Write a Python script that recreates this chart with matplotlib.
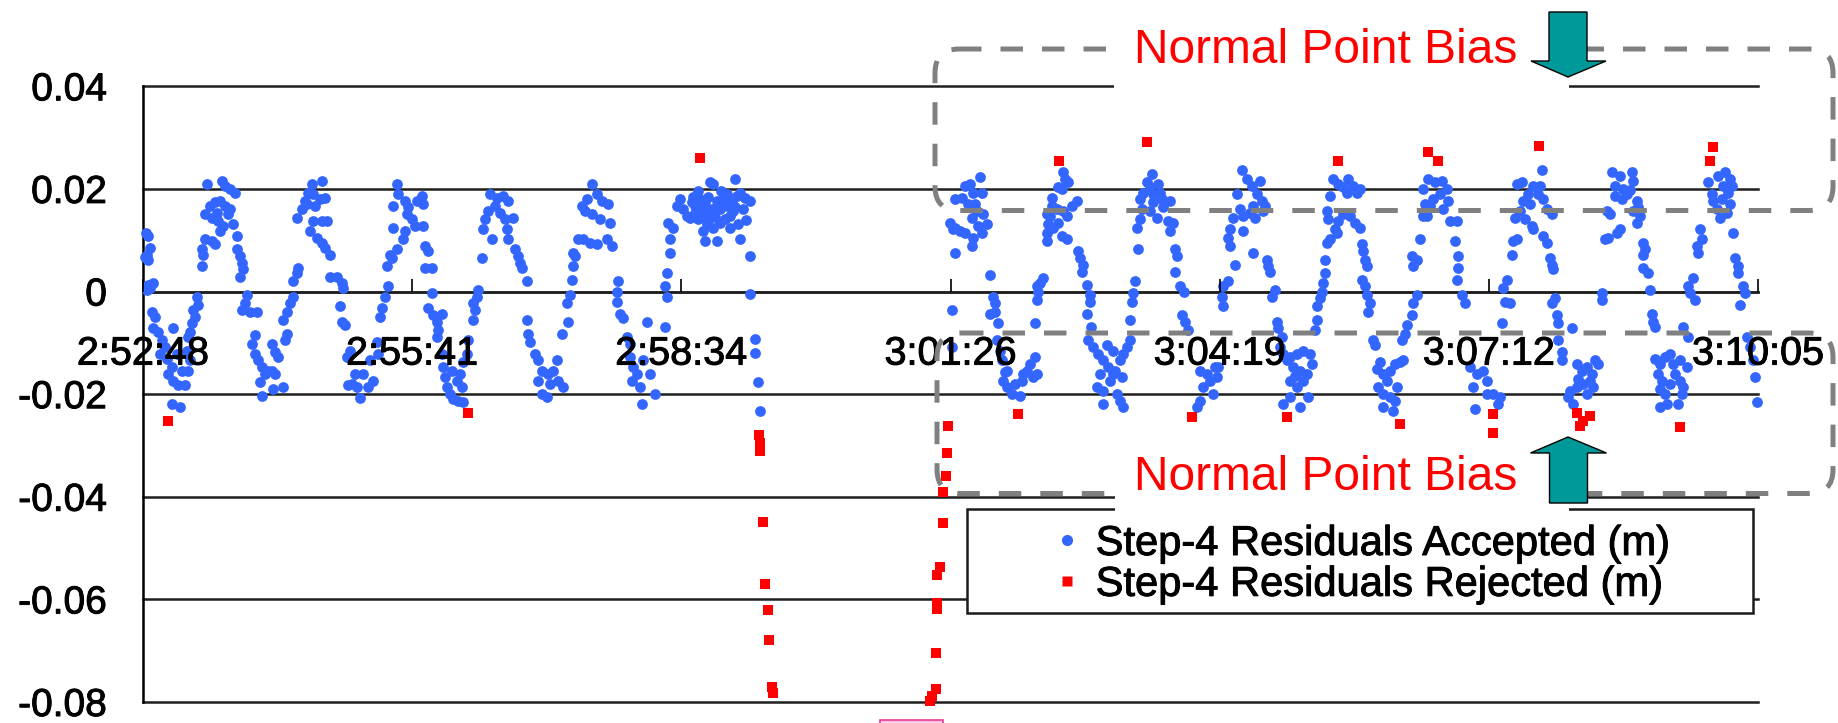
import numpy as np
import matplotlib
matplotlib.use("Agg")
import matplotlib.pyplot as plt
import matplotlib.patheffects as pe
from matplotlib.patches import FancyBboxPatch, Rectangle, Polygon
from matplotlib.lines import Line2D
from matplotlib.transforms import Affine2D

plt.rcParams['font.family'] = ['Liberation Sans', 'DejaVu Sans']

# Residuals: (seconds after 02:52:48, residual in mm)
pass1_accepted = np.array([
    (2.0, 11.5), (1.5, 6.8), (3.0, 1.3),
    (3.45, 10.8), (4.5, 8.5), (2.4, 7.2), (3.5, 6.2), (6.7, 1.6), (4.5, 0.7), (2.4, 0.3),
    (5.6, -3.9), (7.7, -4.9), (6.7, -7.2), (9.9, -7.9), (12.0, -9.5), (14.2, -10.8), (11.0, -12.1),
    (15.2, -13.1), (18.4, -14.7), (16.3, -16.0), (19.5, -17.4), (22.7, -18.3), (27.0, -18.3),
    (24.9, -15.4), (29.1, -15.4), (30.2, -13.4), (28.1, -11.5), (19.5, -7.2), (18.4, -21.9),
    (23.8, -22.6), (21.6, -12.1),
    (34.5, -1.0), (35.6, -2.6), (32.3, -3.6), (33.4, -4.9), (31.3, -6.2), (30.2, -7.9), (29.1, -8.8),
    (37.7, 4.9), (38.8, 7.2), (39.8, 10.2), (44.1, 9.8), (46.3, 9.2), (37.7, 8.2),
    (40.9, 21.0), (50.5, 21.6), (52.7, 20.6), (55.9, 20.0), (59.1, 19.3), (39.8, 15.1), (43.0, 16.7),
    (46.3, 17.4), (49.5, 17.7), (52.7, 16.7), (55.9, 16.0), (44.1, 14.4), (48.4, 13.8), (51.6, 12.8),
    (49.5, 11.8), (58.0, 13.1), (60.2, 10.8), (54.8, 15.1), (47.3, 15.4),
    (60.2, 8.2), (62.3, 6.9), (63.4, 5.6), (64.4, 4.3), (62.3, 2.9), (66.6, -0.7), (65.5, -2.3),
    (63.4, -3.6), (68.7, -3.9), (73.0, -3.9),
    (71.9, -8.5), (69.8, -10.2), (71.9, -12.1), (74.1, -13.4), (76.2, -14.7), (78.4, -16.0),
    (75.1, -17.7), (76.2, -20.3), (80.5, -15.4), (82.6, -15.4), (84.8, -16.0), (83.7, -19.0),
    (90.1, -18.7), (82.6, -10.2), (84.8, -11.8), (86.9, -12.8), (92.3, -8.2), (91.2, -9.5),
    (90.1, -5.6), (92.3, -3.9), (94.4, -2.3), (96.5, -1.0), (96.5, 2.0), (98.7, 3.6), (99.8, 4.6),
    (98.7, 14.4), (101.9, 16.0), (104.0, 17.7), (106.2, 19.3), (108.3, 21.0), (114.7, 21.6),
    (109.4, 19.0), (113.7, 18.0), (116.9, 18.3), (107.2, 11.8), (109.4, 13.8), (114.7, 13.8),
    (117.9, 13.8), (111.5, 10.5), (114.7, 9.5), (116.9, 8.5), (120.1, 7.2), (105.1, 17.0), (110.5, 16.7),
    (120.1, 2.9), (124.4, 2.9), (127.6, 1.6), (128.6, 0.7), (126.5, -2.9), (127.6, -5.9), (129.7, -6.6),
    (130.8, -12.8), (132.9, -11.5), (136.1, -16.0), (134.0, -18.0), (137.2, -18.7), (139.3, -20.7),
    (141.5, -16.0), (145.8, -13.4), (147.9, -17.4), (144.7, -18.7), (150.0, -9.8), (151.1, -12.1),
    (131.9, -18.3),
    (152.2, -4.9), (153.3, -3.3), (155.4, -1.0), (157.5, 1.0), (156.5, 4.9), (159.7, 6.6), (158.6, 7.2),
    (160.7, 12.4), (162.9, 8.2), (167.2, 10.2), (168.2, 11.8),
    (162.9, 21.0), (163.9, 19.0), (168.2, 17.7), (170.4, 16.4), (172.5, 14.1), (174.6, 12.8),
    (169.3, 15.1), (175.7, 17.7), (160.7, 16.7),
    (178.9, 18.7), (180.0, 17.0), (180.0, 12.8), (181.0, 8.8), (183.2, 7.9), (181.0, 4.6), (185.3, 4.6),
    (185.3, -0.3), (183.2, -3.3), (186.4, -4.6), (188.5, -5.9), (189.6, -7.5), (191.7, -4.3), (188.5, -8.8),
    (191.7, -12.1), (192.8, -14.7), (193.9, -16.7), (194.9, -18.7), (197.1, -20.0), (199.2, -21.0),
    (202.4, -21.3), (204.6, -18.7), (203.5, -16.0), (205.6, -13.8), (207.8, -12.1), (208.9, -9.5),
    (198.2, -15.4), (201.4, -17.4), (205.6, -21.6),
    (212.1, -5.6), (213.1, -3.6), (212.1, -2.3), (214.2, -1.0), (215.3, 0.3), (217.4, 6.6), (218.5, 12.1),
    (219.5, 14.1), (221.7, 15.7), (223.8, 10.2),
    (222.8, 19.0), (227.0, 18.3), (231.3, 18.7), (234.5, 17.7), (226.0, 16.7), (229.2, 15.4),
    (232.4, 14.1), (237.7, 14.4), (233.5, 12.1), (234.5, 10.2), (238.8, 8.2), (241.0, 6.9), (242.0, 5.6),
    (243.1, 4.6), (246.3, 2.0),
    (246.3, -5.6), (247.4, -8.2), (248.4, -9.8),
    (251.7, -12.1), (253.8, -13.4), (255.9, -15.4), (253.8, -17.4), (255.9, -20.0), (259.1, -20.6),
    (261.3, -18.0), (263.4, -15.4), (265.6, -13.4), (266.6, -17.4), (269.8, -18.7), (260.2, -16.0),
    (268.8, -8.2), (273.1, -5.9), (272.0, -2.3), (274.1, -0.7), (275.2, 2.3), (276.3, 4.9), (277.3, 6.9),
    (276.3, 7.5),
    (279.5, 10.2), (282.7, 10.2), (287.0, 9.5), (291.2, 9.2), (281.6, 16.7), (284.8, 18.0), (288.0, 21.0),
    (291.2, 19.0), (294.5, 17.7), (298.7, 17.0), (283.8, 15.7), (288.0, 15.1), (293.4, 14.1),
    (299.8, 13.4), (300.9, 8.8), (297.7, 10.2),
    (305.2, 2.0), (304.1, 0.0), (304.1, -2.0), (306.2, -4.3), (308.4, -5.2), (310.5, -8.8), (312.6, -10.2),
    (312.6, -12.8), (314.8, -14.7), (313.7, -17.4), (316.9, -16.0), (319.1, -18.7), (320.1, -21.9),
    (321.2, -13.4), (325.5, -16.0), (328.7, -20.0), (323.3, -5.9),
    (335.1, -6.9), (336.2, -1.0), (335.1, 1.0), (336.2, 3.6), (338.3, 7.5), (338.3, 10.2), (340.5, 12.4),
    (337.3, 13.4),
    (342.6, 16.7), (344.7, 18.0), (346.9, 16.0), (349.0, 14.7),
    (352.2, 17.4), (354.3, 15.4), (356.5, 14.1), (351.1, 14.4), (357.5, 18.0), (360.8, 17.4), (364.0, 21.3),
    (366.1, 21.0), (361.8, 15.7), (365.0, 16.0), (368.2, 17.7), (370.4, 16.0), (372.5, 18.0),
    (374.7, 16.7), (376.8, 14.7), (378.9, 15.7), (381.1, 18.7), (383.2, 19.3), (386.4, 18.3),
    (389.6, 17.7), (380.0, 21.9), (370.4, 13.4), (366.1, 12.4), (361.8, 13.1), (359.7, 11.8),
    (360.8, 9.8), (368.2, 9.8), (373.6, 14.1), (376.8, 12.4), (382.2, 13.1), (383.2, 10.2), (358.6, 14.7),
    (354.3, 16.7), (353.0, 18.5), (356.0, 19.5), (363.0, 18.5), (367.0, 14.5), (371.0, 19.5),
    (375.0, 19.0), (378.0, 17.5), (385.0, 16.0), (387.0, 14.0), (363.0, 14.0), (358.0, 16.0), (380.0, 16.5),
    (389.6, 6.9), (389.6, -0.5), (392.9, -9.3), (392.9, -12.0), (395.0, -17.7), (396.1, -23.3),
])

pass2_accepted = np.array([
    (519.2, -3.6), (519.5, -10.8),
    (521.3, 18.0), (525.6, 18.3), (527.8, 20.6), (531.0, 21.0), (537.4, 22.3), (538.5, 19.3),
    (533.1, 19.3), (529.9, 17.0), (534.2, 17.0), (535.2, 15.7), (532.0, 14.4), (539.5, 15.1),
    (541.7, 13.1), (536.3, 12.8), (538.5, 11.5), (521.3, 12.4), (520.3, 12.1), (524.5, 11.8),
    (527.8, 11.5), (533.1, 10.5), (532.0, 8.8), (521.3, 7.5), (518.1, 13.4), (543.8, 3.3),
    (545.9, -1.0), (547.0, -2.3), (543.8, -4.3), (547.0, -3.9), (549.2, -6.2), (548.1, -9.5),
    (550.2, -11.5), (551.3, -13.4), (554.5, -15.4), (552.4, -17.4), (554.5, -18.7), (557.7, -20.0),
    (563.1, -20.3), (559.9, -18.0), (564.1, -17.4), (565.2, -16.0), (567.3, -15.4), (569.5, -14.1),
    (572.7, -12.8), (573.8, -16.0), (571.6, -16.7), (553.4, -15.7),
    (572.7, -6.2), (573.8, -1.6), (574.8, 0.0), (575.9, 1.6), (578.0, 2.6), (573.8, 1.0),
    (580.2, 9.8), (580.2, 11.5), (581.3, 13.1), (582.3, 14.7), (583.4, 16.7), (583.4, 18.3),
    (587.7, 20.3), (590.9, 23.3), (591.9, 21.9), (594.1, 21.3), (589.8, 20.0), (586.6, 16.0),
    (590.9, 15.7), (593.0, 14.7), (596.2, 16.7), (599.4, 17.7), (584.5, 12.4), (589.8, 10.8),
    (593.0, 10.2), (587.7, 13.4), (580.2, 15.1),
    (600.5, 7.9), (601.6, 6.6), (603.7, 5.2), (602.7, 3.9), (605.9, 1.3), (608.0, -0.7), (608.0, -2.0),
    (605.9, -4.3), (608.9, -6.9),
    (606.9, -9.5), (610.1, -10.8), (613.4, -12.1), (616.6, -13.4), (619.8, -14.7), (623.0, -16.0),
    (620.8, -17.4), (616.6, -19.3), (612.3, -18.7), (616.6, -21.9), (625.1, -20.0), (627.3, -21.3),
    (629.4, -22.6), (624.1, -15.4), (627.3, -13.4), (629.4, -12.1), (631.5, -10.8), (633.7, -9.5),
    (623.0, -11.5), (618.7, -10.5), (614.4, -16.0), (628.3, -16.7),
    (633.7, -5.6), (634.7, -2.0), (635.8, -0.3), (636.9, 2.0), (639.0, 8.2), (637.9, 12.4),
    (640.1, 14.1), (641.2, 16.0), (640.1, 18.0), (642.2, 19.3), (644.4, 21.3), (647.6, 22.9),
    (646.5, 20.3), (651.9, 21.0), (653.0, 19.3), (654.0, 18.0), (648.7, 17.4), (646.5, 15.7),
    (650.8, 14.4), (655.1, 16.4), (659.4, 17.7), (658.3, 13.8), (661.5, 13.4), (659.4, 11.8),
    (648.7, 19.0),
    (662.6, 8.2), (663.6, 6.9), (662.6, 3.9), (665.8, 1.0), (668.0, 0.0), (666.9, -4.6), (669.0, -5.9),
    (671.1, -7.5),
    (678.6, -15.4), (682.9, -16.0), (680.8, -18.7), (678.6, -21.3), (676.5, -22.6), (685.0, -17.4),
    (688.3, -14.7), (687.2, -20.0), (689.3, -16.7), (690.4, -14.7),
    (693.6, -2.9), (692.5, -1.0), (693.6, 1.0), (696.8, 2.0), (701.1, 5.2), (697.8, 8.8), (696.8, 10.5),
    (697.8, 12.1), (706.4, 11.8), (700.0, 14.4), (704.3, 16.0), (702.1, 19.0), (705.3, 23.6),
    (708.5, 21.9), (711.8, 20.6), (717.1, 21.6), (715.0, 19.0), (718.2, 17.7), (720.3, 16.7),
    (712.8, 16.7), (706.4, 14.7), (710.7, 15.4), (719.2, 15.7), (713.9, 14.4),
    (712.8, 7.5), (721.4, 6.2), (722.5, 4.9), (723.5, 3.9), (726.7, 0.3), (724.6, -1.0), (727.8, -5.9),
    (728.9, -7.2), (731.0, -8.8), (729.9, -10.8),
    (732.1, -12.1), (736.4, -12.8), (740.6, -12.1), (744.9, -11.5), (749.2, -12.1), (750.3, -14.1),
    (747.1, -16.0), (742.8, -15.4), (738.5, -14.7), (734.2, -13.4), (736.4, -17.4), (740.6, -18.7),
    (744.9, -17.4), (748.1, -20.6), (742.8, -22.6), (736.4, -20.6), (732.1, -21.9), (739.6, -16.4),
    (752.4, -7.5), (753.5, -5.6), (753.5, -2.9), (755.6, -1.3), (756.7, 0.0), (757.8, 1.6), (758.8, 3.6),
    (758.8, 6.2), (759.9, 9.5), (762.0, 10.2), (761.0, 14.1), (759.9, 15.7), (762.0, 18.7),
    (764.2, 21.9), (767.4, 21.0), (770.6, 20.3), (773.8, 21.9), (777.0, 20.6), (781.3, 20.0),
    (779.2, 19.3), (772.7, 19.3), (767.4, 13.8), (770.6, 15.1), (774.9, 14.7), (778.1, 13.4),
    (781.3, 12.4), (765.3, 12.1), (766.3, 11.5),
    (782.4, 9.2), (783.4, 7.9), (784.5, 6.2), (785.6, 4.9), (782.4, 2.3), (784.5, 1.0), (785.6, -0.7),
    (787.7, -2.3), (786.7, -3.9), (789.9, -9.5), (790.9, -10.5),
    (794.1, -13.8), (792.0, -15.1), (796.3, -16.0), (800.6, -15.4), (803.8, -14.1), (807.0, -13.8),
    (809.1, -13.4), (793.1, -18.7), (796.3, -20.0), (800.6, -20.6), (803.8, -21.3), (796.3, -22.6),
    (802.7, -23.3), (798.4, -17.4), (804.8, -18.7),
    (808.1, -9.5), (810.2, -8.2), (811.3, -6.6), (814.5, -4.6), (815.5, -2.3), (817.7, -0.7),
    (815.5, 4.9), (817.7, 6.2), (814.5, 6.9), (819.8, 10.2), (822.0, 14.7), (823.0, 17.0),
    (822.0, 20.0), (825.2, 21.9), (829.5, 21.3), (833.7, 21.6), (836.9, 20.0), (832.7, 19.0),
    (828.4, 18.0), (826.2, 16.7), (838.0, 17.7), (834.8, 16.0), (839.1, 13.8), (843.4, 13.8),
    (824.1, 14.7),
    (842.3, 9.8), (844.4, 6.9), (844.4, 4.6), (843.4, 2.3), (846.6, -0.7), (848.7, -2.3),
    (851.9, -14.7), (856.2, -16.0), (854.1, -18.7), (855.1, -22.9), (860.5, -15.4), (862.6, -20.0),
    (862.6, -17.4), (866.9, -20.0), (870.1, -21.9), (871.1, -20.6),
    (872.2, -6.2), (874.4, -2.0), (877.6, -2.3), (873.3, 0.7), (875.4, 2.3), (878.6, 7.2), (879.7, 9.8),
    (881.8, 10.2),
    (880.8, 14.4), (884.0, 15.7), (887.2, 14.1), (891.5, 12.8), (892.5, 12.1), (886.1, 17.7),
    (889.3, 19.0), (892.5, 20.6), (896.8, 20.6), (881.8, 21.0), (885.1, 21.3), (895.8, 19.0),
    (899.0, 18.0), (901.1, 16.0), (904.3, 15.1), (897.9, 23.6), (890.4, 17.0),
    (899.0, 10.8), (901.1, 9.5), (903.2, 6.6), (904.3, 5.2), (905.4, 4.3), (906.5, -1.3), (904.3, -2.3),
    (907.5, -4.6), (908.7, -6.2), (908.6, -9.5), (910.7, -11.8), (910.7, -13.4), (917.2, -7.2),
    (920.4, -14.1), (923.6, -15.4), (926.8, -14.7), (932.1, -13.4), (934.3, -14.1), (930.0, -16.0),
    (928.9, -17.4), (924.6, -18.0), (920.4, -18.7), (916.1, -19.3), (915.0, -20.6), (918.2, -21.9),
    (926.8, -20.0), (931.1, -18.7), (921.4, -17.0),
    (936.4, -0.3), (936.4, -1.6), (938.5, 10.2), (940.7, 10.5), (939.6, 15.7), (941.8, 15.1),
    (948.2, 12.1), (946.0, 11.5),
    (942.8, 23.3), (948.2, 22.6), (955.7, 23.3), (956.7, 21.6), (945.0, 20.6), (950.3, 20.0),
    (954.6, 19.7), (945.0, 18.7), (949.3, 18.0), (952.5, 19.0), (958.9, 17.7), (960.0, 16.4),
    (961.0, 14.7), (958.9, 13.4), (956.7, 15.7),
    (963.2, 9.5), (964.2, 8.2), (963.2, 7.2), (963.2, 4.6), (966.4, 3.6), (967.4, 0.3), (968.5, -4.3),
    (969.6, -5.9), (970.5, -6.9),
    (970.7, -13.1), (973.9, -14.1), (977.1, -12.8), (980.3, -12.1), (982.4, -14.1), (986.7, -13.4),
    (991.0, -14.7), (972.8, -16.0), (974.9, -17.4), (973.9, -19.0), (977.1, -20.0), (980.3, -18.0),
    (983.5, -16.0), (986.7, -17.4), (987.8, -20.0), (985.6, -21.9), (978.1, -21.9), (973.9, -22.6),
    (988.8, -18.7),
    (988.8, -6.9), (992.0, -8.8), (992.0, 1.0), (995.3, 2.6), (993.1, -0.3), (996.3, -1.6), (997.4, 8.8),
    (999.5, 12.1), (1000.6, 10.2), (998.5, 7.5),
    (1004.9, 21.3), (1007.0, 19.0), (1008.1, 17.7), (1011.3, 22.6), (1015.6, 23.3), (1018.8, 21.9),
    (1019.9, 20.6), (1017.7, 19.3), (1013.5, 18.0), (1010.2, 16.0), (1012.4, 14.4), (1016.7, 15.4),
    (1018.8, 17.0), (1014.5, 20.6),
    (1020.9, 11.5), (1022.0, 6.6), (1024.2, 4.9), (1024.2, 3.6), (1027.4, 1.0), (1028.4, -0.3),
    (1025.2, -2.6), (1029.5, -8.8), (1031.6, -10.8), (1033.8, -13.4), (1034.9, -16.7), (1035.9, -21.6),
])

rejected = np.array([
    (357.8, 26.1), (588.1, 25.5), (644.4, 29.1), (767.0, 25.5), (825.2, 27.2), (831.6, 25.5),
    (896.4, 28.4), (1008.1, 28.2), (1006.0, 25.5),
    (16.3, -25.2), (208.9, -23.6), (562.0, -23.8), (673.7, -24.4), (734.6, -24.4), (807.0, -25.9),
    (866.9, -23.8), (866.5, -27.6), (920.4, -23.6), (924.6, -25.2), (928.9, -24.2), (922.5, -26.2),
    (986.7, -26.4),
    (395.5, -28.0), (396.0, -29.5), (396.3, -31.0), (398.0, -45.0), (399.6, -57.0), (401.0, -62.0),
    (402.0, -68.0), (404.0, -77.0), (404.4, -78.2),
    (505.3, -79.8), (506.5, -78.8), (509.0, -77.5), (509.0, -70.4), (509.7, -61.8), (510.0, -60.8),
    (509.7, -55.3), (511.6, -53.7), (513.4, -45.2), (513.6, -39.0), (515.5, -36.0), (516.0, -31.4),
    (516.8, -26.2),
])

tick_step_s = 172.8
time_labels = ['2:52:48', '2:55:41', '2:58:34', '3:01:26', '3:04:19', '3:07:12', '3:10:05']
value_ticks = [-0.08, -0.06, -0.04, -0.02, 0.0, 0.02, 0.04]
value_labels = ['-0.08', '-0.06', '-0.04', '-0.02', '0', '0.02', '0.04']
legend_labels = ['Step-4 Residuals Accepted (m)', 'Step-4 Residuals Rejected (m)']
note_text = 'Normal Point Bias'

BLUE = '#3366FF'
RED = '#FF0000'
TEAL = '#009999'
GRID = '#1f1f1f'

# a hairline outline gives the black labels a slightly heavier stroke
heavy = [pe.withStroke(linewidth=0.7, foreground='black')]

W, H = 1838, 723
fig = plt.figure(figsize=(W / 100, H / 100), dpi=100)
fig.patch.set_facecolor('white')

# pixel coordinates measured from the top-left corner of the canvas
pix = Affine2D().scale(1 / W, -1 / H).translate(0, 1) + fig.transFigure

ax = fig.add_axes([143 / W, 1 - 702 / H, (1758 - 143) / W, (702 - 86.3) / H])
ax.set_xlim(0, tick_step_s * (len(time_labels) - 1))
ax.set_ylim(value_ticks[0], value_ticks[-1])
ax.patch.set_alpha(0)

for v in value_ticks:
    ax.axhline(v, color=GRID, lw=1.8, zorder=1, clip_on=False)

accepted = np.vstack([pass1_accepted, pass2_accepted])
ax.scatter(accepted[:, 0], accepted[:, 1] / 1000, s=60, c=BLUE, marker='o',
           linewidths=0, zorder=3, clip_on=False)
ax.scatter(rejected[:, 0], rejected[:, 1] / 1000, s=52, c=RED, marker='s',
           linewidths=0, zorder=3.1, clip_on=False)

for side in ('top', 'right'):
    ax.spines[side].set_visible(False)
ax.spines['bottom'].set_position(('data', 0))
ax.spines['bottom'].set_color(GRID)
ax.spines['bottom'].set_linewidth(1.8)
ax.spines['left'].set_color('black')
ax.spines['left'].set_linewidth(1.8)

ax.set_xticks([i * tick_step_s for i in range(len(time_labels))])
ax.set_xticklabels(time_labels, fontsize=28.5)
ax.tick_params(axis='x', direction='in', length=9.4, width=1.2, pad=31, colors='black')
ax.xaxis.set_zorder(4)
ax.set_yticks(value_ticks)
ax.set_yticklabels(value_labels, fontsize=28)
ax.tick_params(axis='y', length=0, pad=26, colors='black')
for lab in ax.get_xticklabels() + ax.get_yticklabels():
    lab.set_path_effects(heavy)

# highlighted bias bands
for x0, y0, x1, y1 in [(935, 49, 1833, 210.5), (937, 333, 1833, 493.5)]:
    fig.add_artist(FancyBboxPatch((x0, y0), x1 - x0, y1 - y0,
                                  boxstyle='round,pad=0,rounding_size=24', transform=pix,
                                  fill=False, edgecolor='#808080', lw=3.6,
                                  linestyle=(0, (4.5, 3.8)), zorder=3))

# legend
fig.add_artist(Rectangle((967, 509), 786, 104, transform=pix, facecolor='white',
                         edgecolor='#1a1a1a', lw=1.8, zorder=2))
handles = [Line2D([], [], ls='none', marker='o', ms=8, mfc=BLUE, mec='none'),
           Line2D([], [], ls='none', marker='s', ms=7.2, mfc=RED, mec='none')]
leg = fig.legend(handles, legend_labels, loc='upper left',
                 bbox_to_anchor=(1054 / W, 1 - 524 / H), frameon=False, borderpad=0,
                 borderaxespad=0, handlelength=0.6, handletextpad=0.4,
                 labelspacing=0.02, fontsize=30)
leg.set_zorder(2.5)
for txt in leg.get_texts():
    txt.set_path_effects(heavy)

# annotation labels with white backing
for (bx, by, bw, bh), baseline in [((1114, 15, 455, 74), 63), ((1115, 442, 454, 71), 490)]:
    fig.add_artist(Rectangle((bx, by), bw, bh, transform=pix, facecolor='white',
                             edgecolor='none', zorder=4))
    fig.text(1326, baseline, note_text, transform=pix, color=RED, fontsize=34.5,
             ha='center', va='baseline', zorder=5)

down_arrow = [(1549, 12), (1587, 12), (1587, 61), (1606, 61), (1568, 77), (1531, 61), (1549, 61)]
up_arrow = [(1549.5, 503), (1587.5, 503), (1587.5, 453), (1606.5, 453), (1568, 437),
            (1530.5, 453), (1549.5, 453)]
for shape in (down_arrow, up_arrow):
    fig.add_artist(Polygon(shape, closed=True, transform=pix, facecolor=TEAL,
                           edgecolor='black', lw=1.0, zorder=6))

fig.add_artist(Rectangle((880, 719.5), 63, 12, transform=pix, facecolor='#ffc4e1',
                         edgecolor='#e43c96', lw=1.2, zorder=6))

fig.savefig('out.png', dpi=100, facecolor='white')
